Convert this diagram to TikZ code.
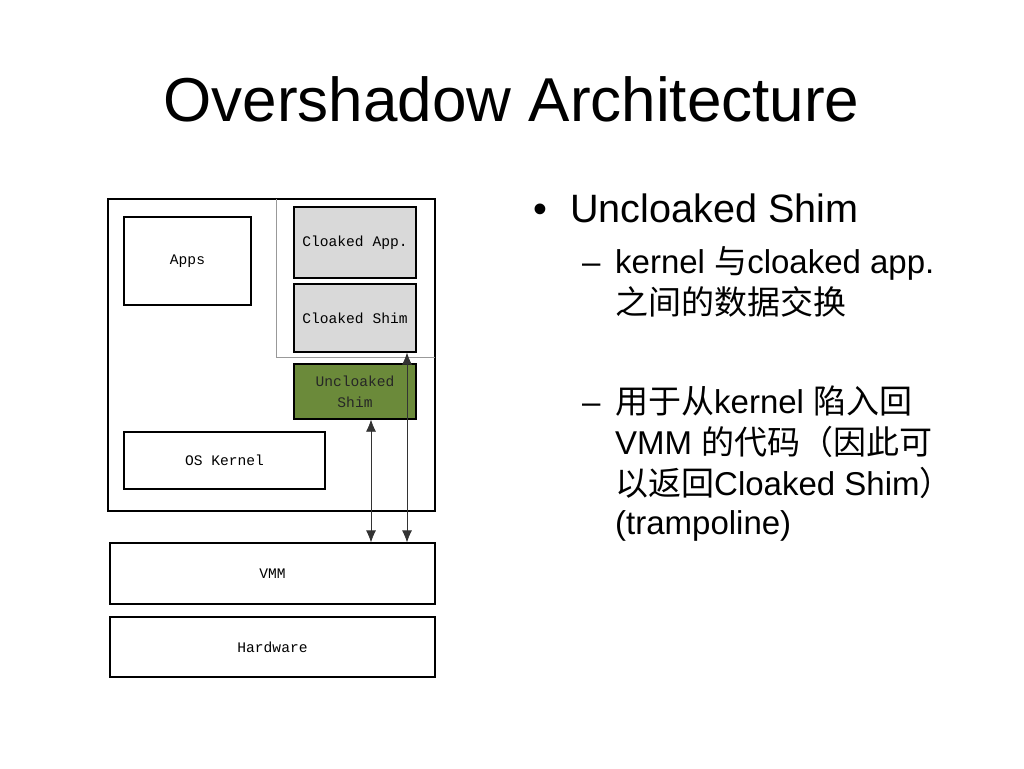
\documentclass[tikz,border=0pt]{standalone}
\usepackage{fontspec}
\setmainfont{Liberation Sans}
\newfontfamily\cjk{Noto Sans CJK SC}
\newfontfamily\boxfont{Liberation Mono}
\usetikzlibrary{arrows.meta}

\definecolor{cloakgray}{HTML}{D9D9D9}
\definecolor{shimgreen}{HTML}{6B8A3A}

\begin{document}
\begin{tikzpicture}[x=1pt,y=-1pt,
    layer/.style={
      rectangle,
      draw,
      line width=1.2pt,
      inner sep=0pt,
      font=\boxfont\fontsize{14.6}{21}\selectfont,
      align=center
    },
    cloaked/.style={layer, fill=cloakgray},
    line/.style={anchor=base west, inner sep=0pt},
    trap/.style={{Latex[length=12pt,width=10pt]}-{Latex[length=12pt,width=10pt]}, line width=0.7pt, black!80}]
  \useasboundingbox (0,0) rectangle (1024,768);

  % title
  \node[anchor=base, inner sep=0pt, font=\fontsize{62}{70}\selectfont] (title) at (511.5,121) {Overshadow Architecture};

  % guest side
  \node[layer, minimum width=327pt, minimum height=312pt] (guest) at (271.5,355) {};
  \draw[gray!80, line width=0.8pt] (276,199) -- (276,357) -- (435,357);
  \node[layer, minimum width=127pt, minimum height=88pt] (apps) at (187.5,261) {Apps};
  \node[cloaked, minimum width=122pt, minimum height=71pt] (capp) at (355,242.5) {Cloaked App.};
  \node[cloaked, minimum width=122pt, minimum height=68pt] (cshim) at (355,318) {Cloaked Shim};
  \node[layer, fill=shimgreen, text=black!85, minimum width=122pt, minimum height=55pt] (ushim) at (355,391.5) {Uncloaked\\Shim};
  \node[layer, minimum width=201pt, minimum height=57pt] (kernel) at (224.5,460.5) {OS Kernel};

  % host side
  \node[layer, minimum width=325pt, minimum height=61pt] (vmm) at (272.5,573.5) {VMM};
  \node[layer, minimum width=325pt, minimum height=60pt] (hw) at (272.5,647) {Hardware};

  \coordinate (trapA) at (371,0);
  \coordinate (trapB) at (407,0);
  \draw[trap] (ushim.south -| trapA) -- (vmm.north -| trapA);
  \draw[trap] (cshim.south -| trapB) -- (vmm.north -| trapB);

  % bullets
  \node[line, font=\fontsize{39.6}{44}\selectfont] (b1) at (533,222) {•};
  \node[line, font=\fontsize{39.6}{44}\selectfont] (t1) at (570,222) {Uncloaked Shim};
  \node[line, font=\fontsize{33}{40}\selectfont] (d1) at (582,273) {–};
  \node[line, font=\fontsize{33}{40}\selectfont] (t2) at (615,273) {kernel {\cjk 与}cloaked app.};
  \node[line, font=\fontsize{33}{40}\selectfont] (t3) at (615,314) {\cjk 之间的数据交换};
  \node[line, font=\fontsize{33}{40}\selectfont] (d2) at (582,413) {–};
  \node[line, font=\fontsize{33}{40}\selectfont] (t4) at (615,413) {{\cjk 用于从}kernel {\cjk 陷入回}};
  \node[line, font=\fontsize{33}{40}\selectfont] (t5) at (615,454) {VMM {\cjk 的代码（因此可}};
  \node[line, font=\fontsize{33}{40}\selectfont] (t6) at (615,495) {{\cjk 以返回}Cloaked Shim{\cjk ）}};
  \node[line, font=\fontsize{33}{40}\selectfont] (t7) at (615,534) {(trampoline)};
\end{tikzpicture}
\end{document}
